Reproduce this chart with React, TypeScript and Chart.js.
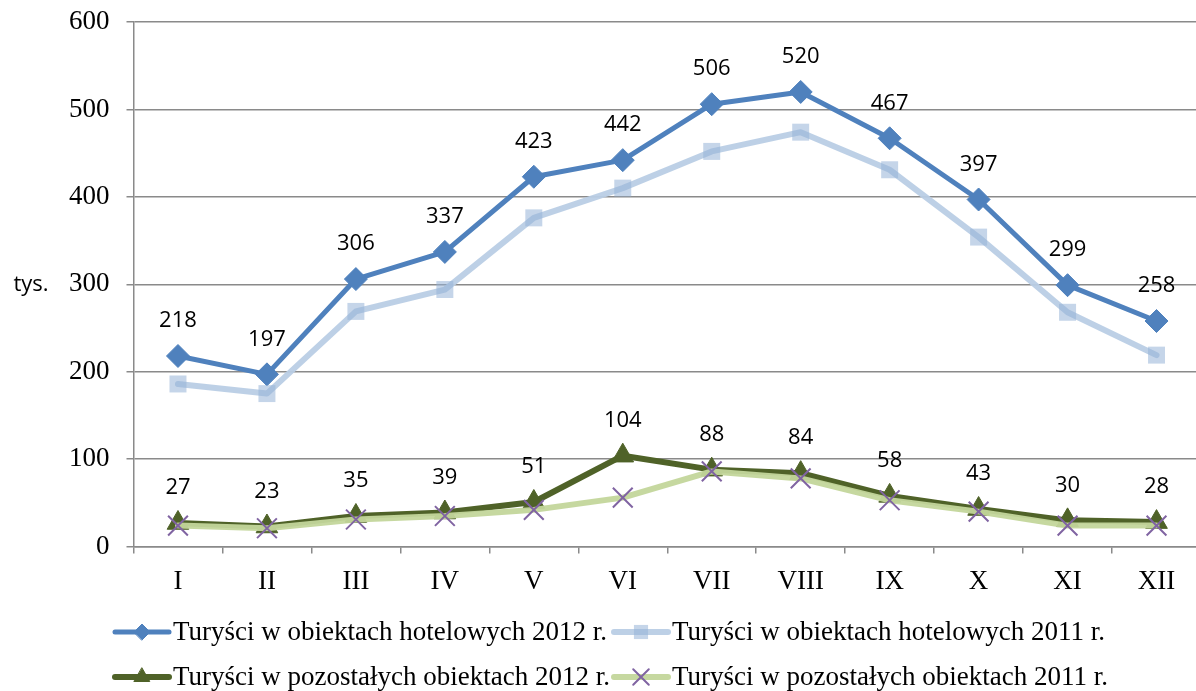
import React, { useEffect, useRef } from 'react';
import { Chart, registerables } from 'chart.js';
import { drawPoint } from 'chart.js/helpers';

Chart.register(...registerables);

const months = ['I', 'II', 'III', 'IV', 'V', 'VI', 'VII', 'VIII', 'IX', 'X', 'XI', 'XII'];
const hotel2012 = [218, 197, 306, 337, 423, 442, 506, 520, 467, 397, 299, 258];
const hotel2011 = [186, 175, 269, 294, 376, 410, 452, 474, 431, 354, 268, 219];
const other2012 = [27, 23, 35, 39, 51, 104, 88, 84, 58, 43, 30, 28];
const other2011 = [24, 21, 31, 35, 42, 56, 86, 78, 53, 40, 24, 24];
const seriesNames = [
  'Turyści w obiektach hotelowych 2012 r.',
  'Turyści w obiektach hotelowych 2011 r.',
  'Turyści w pozostałych obiektach 2012 r.',
  'Turyści w pozostałych obiektach 2011 r.',
];
const yUnit = 'tys.';
const yMin = 0;
const yMax = 600;
const yStep = 100;

const SERIF = '"Liberation Serif", "Times New Roman", serif';
const SANS = '"Open Sans", "Liberation Sans", sans-serif';

const styles = [
  { color: '#4F81BD', width: 5, point: 'rectRot', radius: 11.5, fill: '#4F81BD', stroke: '#4F81BD', pw: 1, lr: 8 },
  { color: 'rgba(185,205,229,0.95)', width: 6, point: 'rect', radius: 12, fill: 'rgba(149,179,215,0.55)', stroke: 'rgba(149,179,215,0)', pw: 0, lr: 10 },
  { color: '#4F6228', width: 6, point: 'triangle', radius: 12.5, fill: '#4F6228', stroke: '#4F6228', pw: 1, lr: 9 },
  { color: 'rgba(195,214,155,0.95)', width: 6, point: 'crossRot', radius: 14, fill: '#8064A2', stroke: '#8064A2', pw: 2, lr: 11 },
];

const labelPlugin = {
  id: 'valueLabels',
  afterDatasetsDraw(chart: any) {
    const ctx = chart.ctx;
    ctx.save();
    ctx.font = `22px ${SANS}`;
    ctx.fillStyle = '#000';
    ctx.textAlign = 'center';
    ctx.textBaseline = 'middle';
    [0, 2].forEach((di) => {
      const meta = chart.getDatasetMeta(di);
      const data = chart.data.datasets[di].data;
      meta.data.forEach((pt: any, i: number) => {
        ctx.fillText(String(data[i]), pt.x, pt.y - 35);
      });
    });
    ctx.restore();
  },
};

const extrasPlugin = {
  id: 'extras',
  afterDraw(chart: any) {
    const ctx = chart.ctx;
    const yScale = chart.scales.y;
    ctx.save();
    // unit label
    ctx.font = `22px ${SANS}`;
    ctx.fillStyle = '#000';
    ctx.textAlign = 'center';
    ctx.textBaseline = 'middle';
    ctx.fillText(yUnit, 31, yScale.getPixelForValue(300));

    // legend
    const rowY = [632, 677];
    const colX = [113, 612];
    const lineLen = 56;
    seriesNames.forEach((name, i) => {
      const st = styles[i];
      const x0 = colX[i % 2];
      const y0 = rowY[Math.floor(i / 2)];
      ctx.strokeStyle = st.color;
      ctx.lineWidth = st.width;
      ctx.lineCap = 'round';
      ctx.beginPath();
      ctx.moveTo(x0 + 2, y0);
      ctx.lineTo(x0 + lineLen, y0);
      ctx.stroke();
      ctx.fillStyle = st.fill;
      ctx.strokeStyle = st.stroke;
      ctx.lineWidth = st.pw;
      drawPoint(ctx, { pointStyle: st.point, radius: st.lr, borderWidth: st.pw, rotation: 0 } as any, x0 + lineLen / 2 + 1, y0);
      ctx.fillStyle = '#000';
      ctx.font = `27px ${SERIF}`;
      ctx.textAlign = 'left';
      ctx.textBaseline = 'middle';
      ctx.fillText(name, x0 + lineLen + 4, y0 + 1);
    });
    ctx.restore();
  },
};

const noScalePadding = (scale: any) => {
  scale.paddingTop = 0;
  scale.paddingBottom = 0;
  scale.paddingLeft = 0;
  scale.paddingRight = 0;
};

export default function App() {
  const ref = useRef<HTMLCanvasElement | null>(null);
  useEffect(() => {
    if (!ref.current) return;
    const series = [hotel2012, hotel2011, other2012, other2011];
    const chart = new Chart(ref.current, {
      type: 'line',
      data: {
        labels: months,
        datasets: series.map((d, i) => ({
          label: seriesNames[i],
          data: d,
          borderColor: styles[i].color,
          borderWidth: styles[i].width,
          pointStyle: styles[i].point as any,
          pointRadius: styles[i].radius,
          pointBackgroundColor: styles[i].fill,
          pointBorderColor: styles[i].stroke,
          pointBorderWidth: styles[i].pw,
          tension: 0,
          fill: false,
          clip: false as any,
          order: 3 - i,
          borderJoinStyle: 'round' as any,
          borderCapStyle: 'round' as any,
        })),
      },
      options: {
        responsive: false,
        animation: false,
        events: [],
        layout: { autoPadding: false, padding: { left: 52, top: 22, right: 0, bottom: 81 } },
        plugins: { legend: { display: false }, tooltip: { enabled: false } },
        scales: {
          x: {
            offset: true,
            afterFit: noScalePadding,
            grid: {
              display: true,
              drawOnChartArea: false,
              drawTicks: true,
              tickLength: 7,
              offset: true,
              color: '#8a8a8a',
              lineWidth: 1.5,
            },
            border: { display: true, color: '#8a8a8a', width: 1.5 },
            ticks: { font: { family: SERIF, size: 27 }, color: '#000', padding: 12, maxRotation: 0, autoSkip: false },
          },
          y: {
            min: yMin,
            max: yMax,
            afterFit: noScalePadding,
            ticks: { stepSize: yStep, font: { family: SERIF, size: 27 }, color: '#000', padding: 17 },
            grid: { color: '#8a8a8a', lineWidth: 1.5, tickLength: 7, drawTicks: true },
            border: { display: true, color: '#8a8a8a', width: 1.5 },
          },
        },
      },
      plugins: [labelPlugin, extrasPlugin],
    });
    return () => chart.destroy();
  }, []);
  return (
    <div style={{ position: 'fixed', left: 0, top: 0, width: 1196, height: 691, background: '#fff', overflow: 'hidden' }}>
      <canvas ref={ref} width={1201} height={691} />
    </div>
  );
}
